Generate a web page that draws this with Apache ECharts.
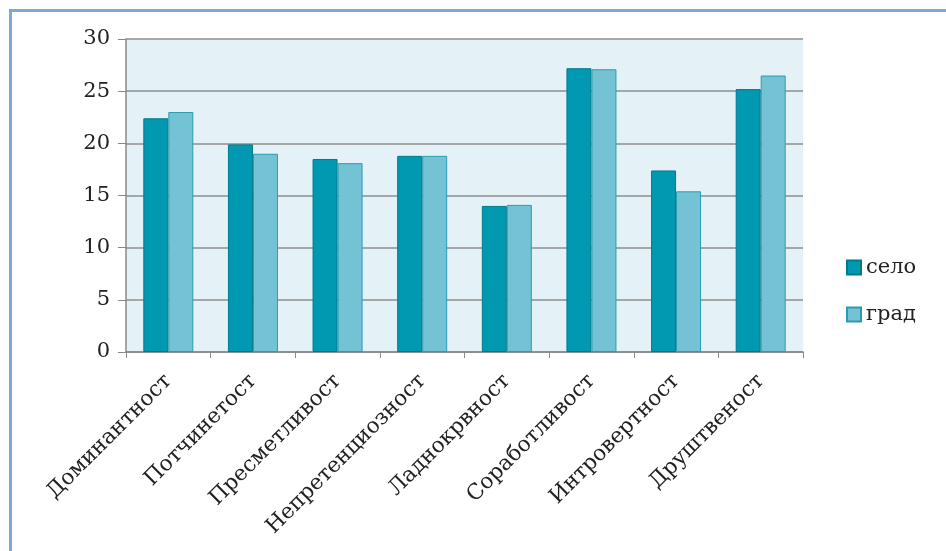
<!DOCTYPE html>
<html>
<head>
<meta charset="utf-8">
<script src="https://cdn.jsdelivr.net/npm/echarts@6/dist/echarts.min.js"></script>
<style>
html,body{margin:0;padding:0;background:#fff;}
#c{width:946px;height:551px;}
</style>
</head>
<body>
<div id="c"></div>
<script>
const categories = ['Доминантност','Потчинетост','Пресметливост','Непретенциозност','Ладнокрвност','Соработливост','Интровертност','Друштвеност'];
const seloValues = [22.4, 19.9, 18.5, 18.8, 14.0, 27.2, 17.4, 25.2];
const gradValues = [23.0, 19.0, 18.1, 18.8, 14.1, 27.1, 15.4, 26.5];
const seriesNames = ['село','град'];
const yTicks = [0, 5, 10, 15, 20, 25, 30];

const chart = echarts.init(document.getElementById('c'), null, {renderer:'canvas'});
const font = 'DejaVu Serif';
chart.setOption({
  animation:false,
  backgroundColor:'#ffffff',
  graphic:[{
    type:'rect', silent:true, z:-1,
    shape:{x:10.5, y:10.5, width:2000, height:2000},
    style:{fill:'none', stroke:'#7fa6d8', lineWidth:3}
  }],
  grid:{left:126, right:143, top:39, bottom:199, show:true, backgroundColor:'#e4f2f8', borderWidth:0},
  legend:{
    orient:'vertical', left:841, top:252, itemWidth:14, itemHeight:14, itemGap:26,
    icon:'rect',
    textStyle:{fontFamily:font, fontSize:21, color:'#222'},
    data:seriesNames
  },
  xAxis:{
    type:'category', data:categories,
    axisLine:{lineStyle:{color:'#888', width:1.5}},
    axisTick:{show:true, length:6, lineStyle:{color:'#888'}},
    axisLabel:{rotate:45, fontFamily:font, fontSize:21.5, color:'#222', margin:26, interval:0}
  },
  yAxis:{
    type:'value', min:yTicks[0], max:yTicks[yTicks.length-1], interval:5,
    axisLine:{show:true, lineStyle:{color:'#888', width:1.5}},
    axisTick:{show:true, length:8, lineStyle:{color:'#888'}},
    axisLabel:{fontFamily:font, fontSize:21, color:'#222', margin:16},
    splitLine:{lineStyle:{color:'#8e8e8e', width:1.5}}
  },
  series:[
    {name:seriesNames[0], type:'bar', data:seloValues, barWidth:25, barGap:'0%',
     itemStyle:{color:'#0099b1', borderColor:'#00798c', borderWidth:1}},
    {name:seriesNames[1], type:'bar', data:gradValues, barWidth:25, barGap:'0%',
     itemStyle:{color:'#74c3d5', borderColor:'#2a9bb2', borderWidth:1}}
  ]
});
</script>
</body>
</html>
